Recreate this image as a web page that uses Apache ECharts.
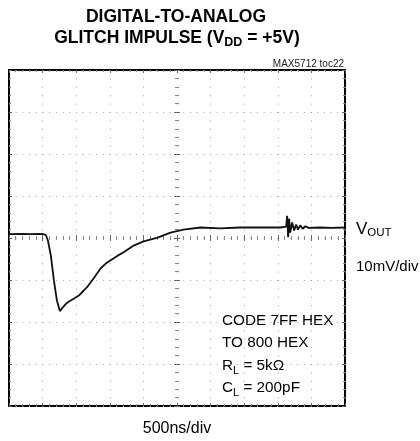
<!DOCTYPE html>
<html><head><meta charset="utf-8">
<script src="https://cdn.jsdelivr.net/npm/echarts@6/dist/echarts.min.js"></script>
<style>html,body{margin:0;padding:0;background:#fff}#c{width:420px;height:441px}</style>
</head><body><div id="c"></div>
<script>
// time relative to screen centre (ns), 500 ns/div
const timeNs = [-2500,-2300,-2174,-2050,-1981,-1951,-1921,-1877,-1832,-1788,-1743,-1725,-1699,-1660,-1625,-1550,-1461,-1387,-1328,-1239,-1135,-1061,-987,-883,-794,-645,-497,-289,-96,96,349,645,942,1239,1536,1625,1639,1654,1669,1684,1714,1743,1773,1800,1832,1870,1910,1960,2129,2300,2500];
// VOUT (mV), 10 mV/div
const voutMv = [0.9,1.0,0.9,1.0,0.9,0.7,-0.6,-4.2,-10.1,-14.8,-17.4,-17.0,-16.5,-15.8,-15.3,-14.6,-13.7,-12.5,-11.5,-9.6,-7.2,-6.1,-5.3,-4.2,-3.4,-1.8,-0.8,0.1,1.3,2.0,2.5,2.3,2.5,2.5,2.5,2.7,5.3,0.2,4.6,1.3,3.7,1.8,3.2,2.0,3.0,2.2,2.8,2.4,2.5,2.4,2.5];
const xRange = [-2500, 2500], xDiv = 500;
const yRange = [-40, 40], yDiv = 10;
const titleLines = ['DIGITAL-TO-ANALOG', 'GLITCH IMPULSE (V', 'DD', ' = +5V)'];
const noteLines = ['CODE 7FF HEX', 'TO 800 HEX'];

const SANS = '"Liberation Sans", Arial, sans-serif';

function xAx(pos, onZero, extra) {
  return Object.assign({
    type: 'value', min: xRange[0], max: xRange[1], interval: xDiv, position: pos,
    axisLine: { show: false, onZero: onZero },
    axisTick: { show: true, inside: true, length: 3, lineStyle: { color: '#666', width: 1 } },
    minorTick: { show: true, splitNumber: 5, length: 2, lineStyle: { color: '#888', width: 1 } },
    splitLine: { show: false }, axisLabel: { show: false }
  }, extra || {});
}
function yAx(pos, onZero, extra) {
  return Object.assign({
    type: 'value', min: yRange[0], max: yRange[1], interval: yDiv, position: pos,
    axisLine: { show: false, onZero: onZero },
    axisTick: { show: true, inside: true, length: 3, lineStyle: { color: '#666', width: 1 } },
    minorTick: { show: true, splitNumber: 5, length: 2, lineStyle: { color: '#888', width: 1 } },
    splitLine: { show: false }, axisLabel: { show: false }
  }, extra || {});
}

const chart = echarts.init(document.getElementById('c'), null, { renderer: 'canvas' });
chart.setOption({
  animation: false,
  backgroundColor: '#fff',
  grid: { left: 9, right: 75, top: 70, bottom: 35, show: true, borderColor: '#000', borderWidth: 2, outerBoundsMode: 'none' },
  xAxis: [
    xAx('bottom', true, { splitLine: { show: true, lineStyle: { color: '#aaa', width: 1, type: [1, 7.4] } } }),
    xAx('top', true),
    xAx('top', false),
    xAx('bottom', false)
  ],
  yAxis: [
    yAx('left', true, { splitLine: { show: true, lineStyle: { color: '#aaa', width: 1, type: [1, 5.7] } } }),
    yAx('right', true),
    yAx('left', false),
    yAx('right', false)
  ],
  series: [{
    type: 'line', xAxisIndex: 0, yAxisIndex: 0, showSymbol: false, z: 10,
    data: timeNs.map((t, i) => [t, voutMv[i]]),
    lineStyle: { color: '#111', width: 1.8 }
  }],
  graphic: [
    { type: 'text', x: 176, y: 17, style: { text: titleLines[0], font: 'bold 17.5px ' + SANS, fill: '#000', align: 'center', verticalAlign: 'middle' } },
    { type: 'text', x: 177, y: 38, style: {
        text: '{a|' + titleLines[1] + '}{b|' + titleLines[2] + '}{a|' + titleLines[3] + '}',
        align: 'center', verticalAlign: 'middle',
        rich: { a: { font: 'bold 17.5px ' + SANS, fill: '#000', lineHeight: 22 }, b: { font: 'bold 12.5px ' + SANS, fill: '#000', lineHeight: 8, verticalAlign: 'bottom' } }
      } },
    { type: 'text', x: 344, y: 64, style: { text: 'MAX5712 toc22', font: '10px ' + SANS, fill: '#222', align: 'right', verticalAlign: 'middle' } },
    { type: 'text', x: 356, y: 229, style: {
        text: '{v|V}{s|OUT}', align: 'left', verticalAlign: 'middle',
        rich: { v: { font: '17px ' + SANS, fill: '#000', lineHeight: 20 }, s: { font: '11.5px ' + SANS, fill: '#000', lineHeight: 12, verticalAlign: 'bottom' } }
      } },
    { type: 'text', x: 356, y: 267, style: { text: '10mV/div', font: '15px ' + SANS, fill: '#000', align: 'left', verticalAlign: 'middle' } },
    { type: 'text', x: 222, y: 321, style: { text: noteLines[0], font: '15.3px ' + SANS, fill: '#000', align: 'left', verticalAlign: 'middle' } },
    { type: 'text', x: 222, y: 343, style: { text: noteLines[1], font: '15.3px ' + SANS, fill: '#000', align: 'left', verticalAlign: 'middle' } },
    { type: 'text', x: 222, y: 366, style: {
        text: '{m|R}{s|L}{m| = 5kΩ}', align: 'left', verticalAlign: 'middle',
        rich: { m: { font: '15.3px ' + SANS, fill: '#000', lineHeight: 20 }, s: { font: '11px ' + SANS, fill: '#000', lineHeight: 12, verticalAlign: 'bottom' } }
      } },
    { type: 'text', x: 222, y: 388, style: {
        text: '{m|C}{s|L}{m| = 200pF}', align: 'left', verticalAlign: 'middle',
        rich: { m: { font: '15.3px ' + SANS, fill: '#000', lineHeight: 20 }, s: { font: '11px ' + SANS, fill: '#000', lineHeight: 12, verticalAlign: 'bottom' } }
      } },
    { type: 'text', x: 177, y: 429, style: { text: '500ns/div', font: '16px ' + SANS, fill: '#000', align: 'center', verticalAlign: 'middle' } }
  ]
});
</script>
</body></html>
